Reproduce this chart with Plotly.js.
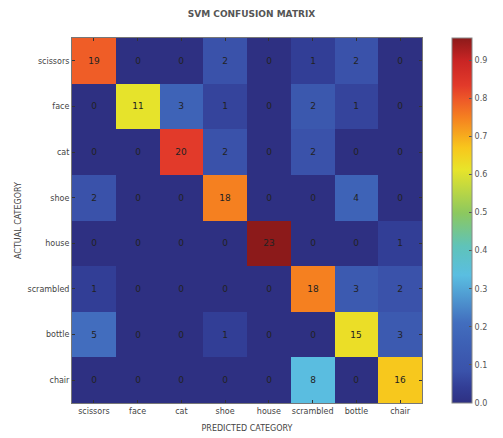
<!DOCTYPE html>
<html>
<head>
<meta charset="utf-8">
<script src="https://cdn.plot.ly/plotly-3.0.1.min.js"></script>
<style>html,body{margin:0;padding:0;background:#fff;}#chart{width:503px;height:438px;}</style>
</head>
<body>
<div id="chart"></div>
<script>
var categories = ["scissors", "face", "cat", "shoe", "house", "scrambled", "bottle", "chair"];
var countsScissors  = [19, 0, 0, 2, 0, 1, 2, 0];
var countsFace      = [0, 11, 3, 1, 0, 2, 1, 0];
var countsCat       = [0, 0, 20, 2, 0, 2, 0, 0];
var countsShoe      = [2, 0, 0, 18, 0, 0, 4, 0];
var countsHouse     = [0, 0, 0, 0, 23, 0, 0, 1];
var countsScrambled = [1, 0, 0, 0, 0, 18, 3, 2];
var countsBottle    = [5, 0, 0, 1, 0, 0, 15, 3];
var countsChair     = [0, 0, 0, 0, 0, 8, 0, 16];
var colorbarTicks = [0.0, 0.1, 0.2, 0.3, 0.4, 0.5, 0.6, 0.7, 0.8, 0.9];

var counts = [countsScissors, countsFace, countsCat, countsShoe, countsHouse, countsScrambled, countsBottle, countsChair];
var z = counts.map(function(row){
  var s = row.reduce(function(a,b){return a+b;}, 0);
  return row.map(function(v){ return v / s; });
});
var zmax = Math.max.apply(null, z.map(function(r){ return Math.max.apply(null, r); }));

var colorscale = [
  [0.00, "rgb(46,48,130)"],
  [0.044, "rgb(50,62,150)"],
  [0.087, "rgb(58,82,170)"],
  [0.17, "rgb(62,98,182)"],
  [0.22, "rgb(66,110,190)"],
  [0.35, "rgb(90,190,225)"],
  [0.43, "rgb(95,195,185)"],
  [0.52, "rgb(140,200,95)"],
  [0.64, "rgb(232,228,42)"],
  [0.70, "rgb(248,198,28)"],
  [0.78, "rgb(245,130,32)"],
  [0.83, "rgb(238,90,40)"],
  [0.87, "rgb(226,58,42)"],
  [0.94, "rgb(200,36,36)"],
  [1.00, "rgb(140,26,26)"]
];

var trace = {
  type: "heatmap",
  x: categories,
  y: categories,
  z: z,
  text: counts,
  texttemplate: "%{text}",
  textfont: {family: "DejaVu Sans", size: 9, color: "#222"},
  zmin: 0,
  zmax: zmax,
  colorscale: colorscale,
  hoverinfo: "skip",
  colorbar: {
    x: 1.085, xanchor: "left", xpad: 0,
    y: 0.5, yanchor: "middle", len: 1, lenmode: "fraction", ypad: 0,
    thickness: 20,
    outlinewidth: 1, outlinecolor: "#888",
    tickvals: colorbarTicks,
    ticktext: colorbarTicks.map(function(v){ return v.toFixed(1); }),
    ticks: "inside", ticklen: 3, tickcolor: "#555",
    tickfont: {family: "DejaVu Sans", size: 8, color: "#555"}
  }
};

var layout = {
  width: 503, height: 438,
  margin: {l: 72, r: 65, t: 38, b: 35},
  paper_bgcolor: "#fff", plot_bgcolor: "#fff",
  title: {text: "<b>SVM CONFUSION MATRIX</b>", x: 0.5, xanchor: "center", y: 0.975, yanchor: "top",
          font: {family: "DejaVu Sans", size: 9, color: "#555"}},
  xaxis: {
    type: "category", tickfont: {family: "DejaVu Sans", size: 8, color: "#444"},
    title: {text: "PREDICTED CATEGORY", standoff: 10, font: {family: "DejaVu Sans", size: 8, color: "#444"}},
    showline: true, mirror: "ticks", linecolor: "#777", linewidth: 1,
    ticks: "inside", ticklen: 3, tickcolor: "#333",
    showgrid: false, zeroline: false
  },
  yaxis: {
    type: "category", autorange: "reversed",
    tickfont: {family: "DejaVu Sans", size: 8, color: "#444"},
    title: {text: "ACTUAL CATEGORY", standoff: 4, font: {family: "DejaVu Sans", size: 8, color: "#444"}},
    showline: true, mirror: "ticks", linecolor: "#777", linewidth: 1,
    ticks: "inside", ticklen: 3, tickcolor: "#333",
    showgrid: false, zeroline: false
  }
};

Plotly.newPlot("chart", [trace], layout, {displayModeBar: false, staticPlot: true});
</script>
</body>
</html>
